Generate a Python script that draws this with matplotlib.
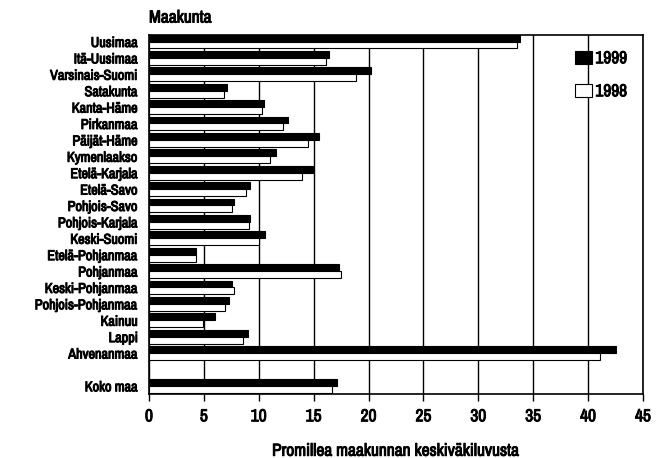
import matplotlib
matplotlib.use("Agg")
import matplotlib.pyplot as plt
from matplotlib import font_manager
import matplotlib.patheffects as pe
import numpy as np

regions = ["Uusimaa", "Itä-Uusimaa", "Varsinais-Suomi", "Satakunta", "Kanta-Häme",
           "Pirkanmaa", "Päijät-Häme", "Kymenlaakso", "Etelä-Karjala", "Etelä-Savo",
           "Pohjois-Savo", "Pohjois-Karjala", "Keski-Suomi", "Etelä-Pohjanmaa",
           "Pohjanmaa", "Keski-Pohjanmaa", "Pohjois-Pohjanmaa", "Kainuu", "Lappi",
           "Ahvenanmaa", "", "Koko maa"]
v1999 = [33.8, 16.4, 20.2, 7.1, 10.5, 12.7, 15.5, 11.6, 14.9, 9.2, 7.7, 9.2, 10.6,
         4.3, 17.3, 7.6, 7.3, 6.0, 9.0, 42.5, np.nan, 17.1]
v1998 = [33.5, 16.1, 18.9, 6.8, 10.3, 12.2, 14.5, 11.0, 13.9, 8.8, 7.6, 9.1, 10.0,
         4.3, 17.5, 7.7, 6.9, 4.9, 8.6, 41.1, np.nan, 16.7]
xticks = [0, 5, 10, 15, 20, 25, 30, 35, 40, 45]

names = sorted({f.name for f in font_manager.fontManager.ttflist})
cond = [n for n in names if ('Cond' in n or 'Narrow' in n)]
fam = cond[0] if cond else "Roboto"
plt.rcParams['font.family'] = [fam, 'DejaVu Sans']
plt.rcParams['font.weight'] = 'bold'

bold = [pe.withStroke(linewidth=0.7, foreground='black')]

fig = plt.figure(figsize=(6.64, 4.58), dpi=100)
ax = fig.add_axes([0.2244, 0.1397, 0.744, 0.784])

y = np.arange(len(regions))
h = 0.42
ax.barh(y - h / 2, v1999, height=h, color='black', edgecolor='black', linewidth=0.8, label='1999', zorder=3)
ax.barh(y + h / 2, v1998, height=h, color='white', edgecolor='black', linewidth=0.8, label='1998', zorder=3)

ax.set_xlim(0, 45)
ax.set_ylim(21.5, -0.4)
ax.set_xticks(xticks)
ax.set_xticklabels([str(t) for t in xticks], fontsize=12.5, fontweight='bold')
ax.set_yticks(y)
ax.set_yticklabels(regions, fontsize=10.3, fontweight='bold')
ax.tick_params(axis='y', length=0, pad=8)
ax.tick_params(axis='x', length=5, width=1, direction='out', pad=6)
ax.grid(axis='x', color='black', linewidth=1, zorder=1)
for s in ax.spines.values():
    s.set_linewidth(1.2)
    s.set_color('black')
for t in ax.get_xticklabels() + ax.get_yticklabels():
    t.set_path_effects(bold)

xl = ax.set_xlabel("Promillea maakunnan keskiväkiluvusta", fontsize=12.5, fontweight='bold', labelpad=14)
xl.set_path_effects(bold)
mt = fig.text(149 / 664, 1 - 18 / 458, "Maakunta", fontsize=12.5, fontweight='bold', ha='left', va='center')
mt.set_path_effects(bold)

leg = ax.legend(loc='upper right', bbox_to_anchor=(1.0, 1.0), frameon=False,
                handlelength=1.0, handleheight=0.8, handletextpad=0.2, labelspacing=1.0,
                prop={'weight': 'bold', 'size': 12.5})
for t in leg.get_texts():
    t.set_path_effects(bold)

fig.savefig("out.png", dpi=100)
